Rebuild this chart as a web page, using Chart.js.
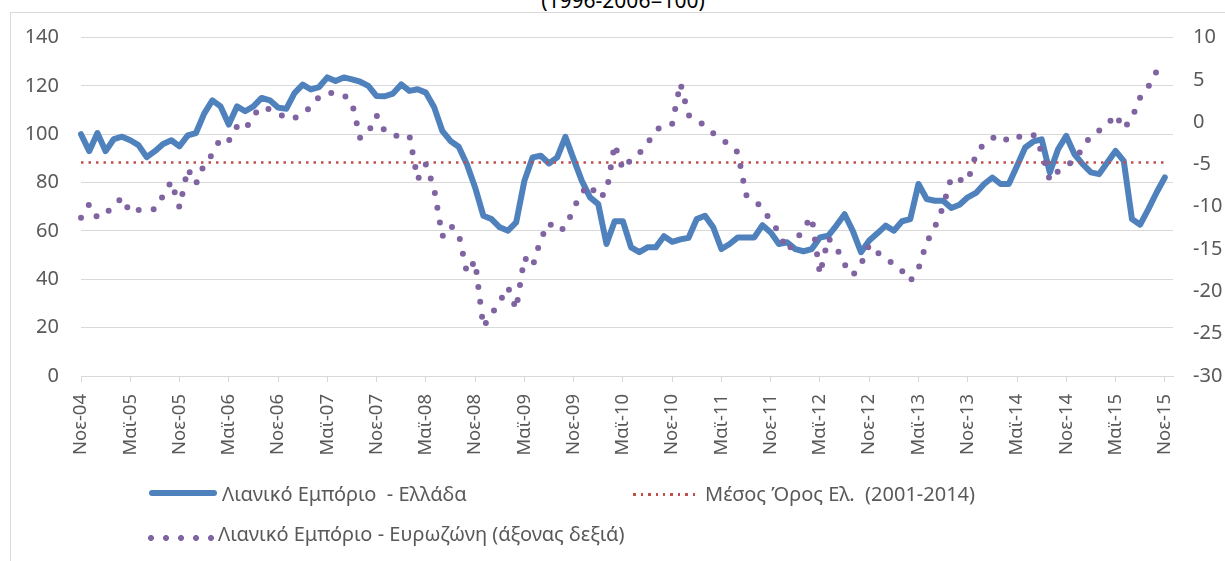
<!DOCTYPE html>
<html lang="el">
<head>
<meta charset="utf-8">
<title>Λιανικό Εμπόριο</title>
<script src="https://cdn.jsdelivr.net/npm/chart.js@4.4.1/dist/chart.umd.min.js"></script>
<style>
  html, body { margin: 0; padding: 0; background: #fff; }
  body { width: 1225px; height: 561px; overflow: hidden; position: relative; font-family: "Noto Sans", sans-serif; }
  #frame { position: absolute; left: 10px; top: 12px; width: 1300px; height: 600px; border: 1px solid #d9d9d9; }
  #subtitle { position: absolute; left: 0; top: -10px; width: 1246px; text-align: center; font-size: 21px; line-height: 20px; color: #000; }
  #chart { position: absolute; left: 0; top: 0; }
  .lg-text { position: absolute; font-size: 20px; line-height: 20px; color: #595959; white-space: pre; }
  .sw { position: absolute; }
</style>
</head>
<body>
<div id="frame"></div>
<div id="subtitle">(1996-2006=100)</div>
<canvas id="chart" width="1225" height="561"></canvas>

<div class="sw" style="left:149px; top:490px; width:68px; height:6px; background:#4F81BD; border-radius:3px;"></div>
<div class="lg-text" style="left:222px; top:484px;">Λιανικό Εμπόριο  - Ελλάδα</div>
<div class="sw" style="left:633px; top:493px; width:63px; height:2.5px; background:repeating-linear-gradient(to right, #C0504D 0 2.5px, transparent 2.5px 7.5px);"></div>
<div class="lg-text" style="left:705px; top:484px;">Μέσος Όρος Ελ.  (2001-2014)</div>
<div class="sw" style="left:148px; top:535px; width:66px; height:6px; background:radial-gradient(circle 3px at 3px 3px, #8064A2 95%, transparent 100%) repeat-x; background-size:15px 6px;"></div>
<div class="lg-text" style="left:218px; top:524px;">Λιανικό Εμπόριο - Ευρωζώνη (άξονας δεξιά)</div>

<script>
// months Nov-04 .. Dec-15 (axis runs one month past the last point)
const MONTHS = ['Ιαν', 'Φεβ', 'Μαρ', 'Απρ', 'Μαϊ', 'Ιουν', 'Ιουλ', 'Αυγ', 'Σεπ', 'Οκτ', 'Νοε', 'Δεκ'];
const labels = [];
for (let m = 10; m < 10 + 134; m++) {
    labels.push(MONTHS[m % 12] + '-' + String(4 + Math.floor(m / 12)).padStart(2, '0'));
}

// Greece retail trade volume, 1996-2006=100 (left axis)
const greece = [
    100, 93, 100.5, 93, 98, 99, 97.5, 95.5, 90.5, 93, 96, 97.5,
    95, 99.5, 100.5, 108.5, 114, 111.5, 104, 111.5, 109.5, 111.5, 115, 114,
    111, 110.5, 117, 120.5, 118.5, 119.5, 123.5, 122, 123.5, 122.7, 121.7, 120,
    115.8, 115.7, 116.8, 120.6, 117.9, 118.6, 117.2, 111.3, 101.4, 97.2, 94.8, 87.6,
    78, 66.3, 64.9, 61.5, 60.1, 63.5, 80.7, 90.4, 91.1, 87.9, 90.4, 98.9,
    89.7, 80.7, 73.9, 71.1, 54.6, 64, 64, 53.2, 51.2, 53.2, 53.2, 57.8,
    55.5, 56.5, 57.2, 64.9, 66.3, 61.5, 52.5, 54.6, 57.3, 57.3, 57.3, 62.4,
    59.4, 54.6, 55.3, 52.5, 51.6, 52.5, 57.3, 58, 62.2, 66.9, 60, 51.2,
    56, 59, 62.2, 60.1, 64, 64.9, 79.4, 73.2, 72.5, 72.5, 69.5, 70.8,
    73.9, 75.7, 79.4, 82.1, 79.4, 79.4, 86.9, 94.5, 97, 97.9, 84.2, 93.8,
    99.3, 91.7, 87.6, 84.2, 83.5, 88.3, 93.1, 89, 64.9, 62.6, 69, 75.9,
    82.1
];

// Eurozone retail trade (right axis)
const eurozone = [
    -11.3, -9.7, -11.3, -10.8, -9.9, -8.9, -10.7, -10.4, -10.3, -10.3, -8.7, -7.0,
    -10.1, -5.5, -7.3, -5.0, -3.8, -1.9, -2.2, -0.5, -0.9, 0.8, 1.8, 1.5,
    1.1, 0.4, 0.5, 0.9, 1.85, 3.0, 3.5, 3.4, 3.2, 2.3, -1.9, -1.2,
    0.8, -1.1, -1.6, -1.6, -1.6, -6.8, -5.0, -7.8, -13.5, -12.2, -13.2, -17.8,
    -16.4, -24.2, -22.7, -21.2, -19.5, -22.1, -16.0, -17.1, -13.8, -11.9, -12.9, -12.5,
    -10.2, -8.3, -7.4, -9.0, -8.3, -2.6, -5.6, -4.4, -3.7, -2.5, -1.0, -0.3,
    -0.2, 4.6, 0.8, 0.3, -0.5, -1.3, -2.0, -2.7, -3.6, -8.6, -9.3, -10.1,
    -11.7, -13.0, -15.2, -14.2, -12.5, -11.2, -18.0, -13.7, -14.8, -16.8, -18.1, -16.8,
    -14.5, -15.4, -16.1, -16.8, -17.6, -18.8, -17.3, -14.2, -12.4, -10.0, -6.5, -6.8,
    -7.0, -3.8, -2.5, -1.9, -1.5, -2.3, -1.8, -1.5, -1.5, -3.5, -6.9, -5.8,
    -5.1, -4.6, -3.0, -1.6, -1.0, -0.3, 0.9, -0.8, 0.5, 2.9, 4.2, 6.0
];

// Greek average 2001-2014
const greeceMean = 88.3;
const meanLine = greece.map(() => greeceMean);

const leftTicks = { min: 0, max: 140, step: 20 };
const rightTicks = { min: -30, max: 10, step: 5 };

Chart.defaults.font.family = '"Noto Sans", sans-serif';
Chart.defaults.color = '#595959';

new Chart(document.getElementById('chart'), {
    type: 'line',
    data: {
        labels: labels,
        datasets: [
            {
                label: 'Λιανικό Εμπόριο - Ευρωζώνη (άξονας δεξιά)',
                data: eurozone,
                yAxisID: 'y1',
                borderColor: '#8064A2',
                borderWidth: 6,
                borderDash: [0, 15],
                borderCapStyle: 'round',
                pointRadius: 0,
                tension: 0,
                order: 0
            },
            {
                label: 'Μέσος Όρος Ελ.  (2001-2014)',
                data: meanLine,
                yAxisID: 'y',
                borderColor: '#C0504D',
                borderWidth: 2.5,
                borderDash: [2.5, 5],
                pointRadius: 0,
                order: 1
            },
            {
                label: 'Λιανικό Εμπόριο  - Ελλάδα',
                data: greece,
                yAxisID: 'y',
                borderColor: '#4F81BD',
                borderWidth: 6,
                borderJoinStyle: 'round',
                borderCapStyle: 'round',
                pointRadius: 0,
                tension: 0,
                order: 2
            }
        ]
    },
    options: {
        responsive: false,
        animation: false,
        devicePixelRatio: 1,
        layout: { padding: { top: 37.5, left: 0, right: 0, bottom: 0 } },
        plugins: { legend: { display: false }, tooltip: { enabled: false } },
        scales: {
            x: {
                offset: false,
                afterFit: (scale) => { scale.height = 185; },
                afterBuildTicks: (scale) => { scale.ticks = scale.ticks.filter(t => t.value % 6 === 0); },
                grid: { display: true, drawOnChartArea: false, drawTicks: true, tickLength: 6, color: '#d9d9d9' },
                border: { display: true, color: '#d9d9d9' },
                ticks: { autoSkip: false, minRotation: 90, maxRotation: 90, padding: 12, font: { size: 18.5 } }
            },
            y: {
                position: 'left',
                min: leftTicks.min,
                max: leftTicks.max,
                afterFit: (scale) => { scale.width = 81; },
                grid: { color: '#d9d9d9', drawTicks: false },
                border: { display: false },
                ticks: { stepSize: leftTicks.step, padding: 22, font: { size: 20 } }
            },
            y1: {
                position: 'right',
                min: rightTicks.min,
                max: rightTicks.max,
                afterFit: (scale) => { scale.width = 52; },
                grid: { drawOnChartArea: false, drawTicks: false },
                border: { display: false },
                ticks: { stepSize: rightTicks.step, padding: 20, font: { size: 20 } }
            }
        }
    }
});
</script>
</body>
</html>
